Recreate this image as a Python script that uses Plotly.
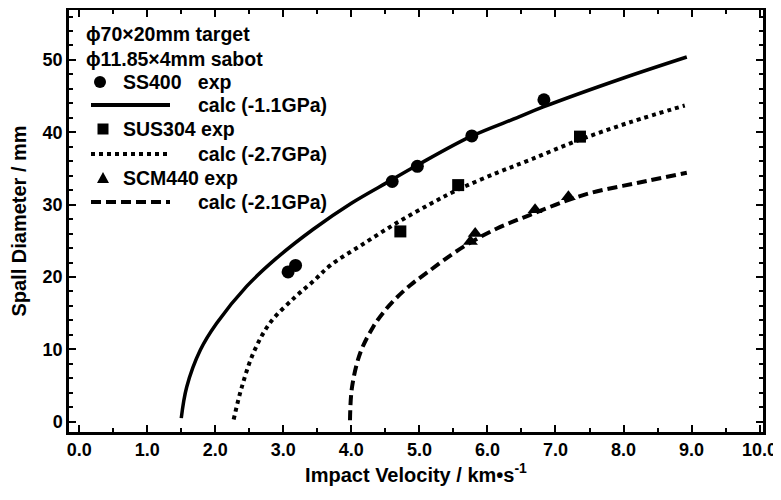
import plotly.graph_objects as go

# ---------------- data ----------------
ss400_v = [3.07, 3.18, 4.60, 4.97, 5.77, 6.83]
ss400_d = [20.7, 21.6, 33.2, 35.3, 39.5, 44.5]

sus304_v = [4.72, 5.57, 7.36]
sus304_d = [26.3, 32.7, 39.4]

scm440_v = [5.75, 5.82, 6.70, 7.19]
scm440_d = [24.9, 26.0, 29.3, 31.1]

calc_ss400_v = [1.50, 1.58, 1.78, 2.02, 2.46, 2.90, 3.44, 4.00, 4.57, 4.96, 5.75, 6.43, 6.82, 8.00, 8.93]
calc_ss400_d = [0.5, 4.8, 9.9, 13.6, 18.7, 22.6, 26.6, 30.2, 33.3, 35.4, 39.4, 42.0, 43.5, 47.5, 50.4]

calc_sus304_v = [2.27, 2.39, 2.56, 2.80, 3.17, 3.44, 3.69, 4.18, 4.67, 5.16, 5.55, 6.14, 6.63, 7.31, 8.10, 8.90]
calc_sus304_d = [0.3, 4.8, 9.5, 13.6, 17.2, 19.4, 21.6, 24.6, 27.5, 30.1, 32.0, 34.4, 36.2, 38.8, 41.4, 43.7]

calc_scm440_v = [3.98, 4.01, 4.13, 4.32, 4.47, 4.65, 4.87, 5.11, 5.65, 6.14, 6.63, 7.12, 7.51, 8.20, 8.93]
calc_scm440_d = [0.2, 4.8, 9.5, 13.1, 15.1, 17.0, 18.9, 20.6, 24.2, 26.7, 28.6, 30.4, 31.6, 33.0, 34.4]

header_lines = ["ϕ70×20mm target", "ϕ11.85×4mm sabot"]
exp_labels = ["SS400   exp", "SUS304 exp", "SCM440 exp"]
calc_labels = ["calc (-1.1GPa)", "calc (-2.7GPa)", "calc (-2.1GPa)"]

# ---------------- figure ----------------
OFF = 8                      # default page body margin
W, H = 781 - OFF, 500 - OFF
PL, PR, PT, PB = 69, 763, 10, 432   # plot area in window pixels
L, R, T, B = PL - OFF, W - (PR - OFF), PT - OFF, H - (PB - OFF)
FONT = "Liberation Sans, Arial, sans-serif"
DOT = "4px,4px"
DASH = "10px,5px"

fig = go.Figure()

fig.add_trace(go.Scatter(x=calc_ss400_v, y=calc_ss400_d, mode="lines",
                         line=dict(color="black", width=3.5, shape="spline"), showlegend=False))
fig.add_trace(go.Scatter(x=calc_sus304_v, y=calc_sus304_d, mode="lines",
                         line=dict(color="black", width=4, dash=DOT, shape="spline"), showlegend=False))
fig.add_trace(go.Scatter(x=calc_scm440_v, y=calc_scm440_d, mode="lines",
                         line=dict(color="black", width=4, dash=DASH, shape="spline"), showlegend=False))

fig.add_trace(go.Scatter(x=ss400_v, y=ss400_d, mode="markers",
                         marker=dict(symbol="circle", size=13, color="black"), showlegend=False))
fig.add_trace(go.Scatter(x=sus304_v, y=sus304_d, mode="markers",
                         marker=dict(symbol="square", size=12, color="black"), showlegend=False))
fig.add_trace(go.Scatter(x=scm440_v, y=scm440_d, mode="markers",
                         marker=dict(symbol="triangle-up", size=13, color="black"), showlegend=False))


def px(xp):
    return (xp - PL) / (PR - PL)


def py(yp):
    return (PB - yp) / (PB - PT)


annotations = []
shapes = []

text_font = dict(family=FONT, size=19.5, color="black", weight="bold")

# header lines
for i, txt in enumerate(header_lines):
    annotations.append(dict(text=txt, x=px(84), y=py(34 + 25 * i), xref="paper", yref="paper",
                            xanchor="left", yanchor="middle", showarrow=False, font=text_font))

row_y = [82, 129, 178]
calc_y = [105, 154, 202]
dashes = ["solid", DOT, DASH]
for i in range(3):
    annotations.append(dict(text=exp_labels[i], x=px(121), y=py(row_y[i]), xref="paper", yref="paper",
                            xanchor="left", yanchor="middle", showarrow=False, font=text_font))
    annotations.append(dict(text=calc_labels[i], x=px(196), y=py(calc_y[i]), xref="paper", yref="paper",
                            xanchor="left", yanchor="middle", showarrow=False, font=text_font))
    shapes.append(dict(type="line", xref="paper", yref="paper", x0=px(91), x1=px(170),
                       y0=py(calc_y[i]), y1=py(calc_y[i]),
                       line=dict(color="black", width=4, dash=dashes[i])))

# legend marker glyphs
shapes.append(dict(type="circle", xref="paper", yref="paper", xsizemode="pixel", ysizemode="pixel",
                   xanchor=px(100), yanchor=py(row_y[0]), x0=-6, x1=6, y0=-6, y1=6,
                   fillcolor="black", line=dict(width=0)))
shapes.append(dict(type="rect", xref="paper", yref="paper", xsizemode="pixel", ysizemode="pixel",
                   xanchor=px(103), yanchor=py(row_y[1]), x0=-5.5, x1=5.5, y0=-5.5, y1=5.5,
                   fillcolor="black", line=dict(width=0)))
shapes.append(dict(type="path", xref="paper", yref="paper", xsizemode="pixel", ysizemode="pixel",
                   xanchor=px(103), yanchor=py(row_y[2]), path="M -6 -5 L 6 -5 L 0 6 Z",
                   fillcolor="black", line=dict(width=0)))

axis_common = dict(
    showline=True, linecolor="black", linewidth=2.5, mirror="ticks",
    ticks="inside", ticklen=7, tickwidth=2, tickcolor="black",
    showgrid=False, zeroline=False,
    tickfont=dict(family=FONT, size=18, color="black", weight="bold"),
    automargin=False,
)

fig.update_layout(
    width=W, height=H,
    margin=dict(l=L, r=R, t=T, b=B),
    paper_bgcolor="white", plot_bgcolor="white",
    showlegend=False,
    annotations=annotations,
    shapes=shapes,
    xaxis=dict(range=[-0.15, 10.05], tick0=0, dtick=1, tickformat=".1f",
               minor=dict(dtick=0.5, ticks="inside", ticklen=4, tickwidth=1.5, tickcolor="black"),
               title=dict(text="Impact Velocity / km•s<sup>-1</sup>", standoff=2,
                          font=dict(family=FONT, size=20, color="black", weight="bold")),
               **axis_common),
    yaxis=dict(range=[-1.42, 56.9], tick0=0, dtick=10,
               minor=dict(dtick=2, ticks="inside", ticklen=4, tickwidth=1.5, tickcolor="black"),
               title=dict(text="Spall Diameter / mm", standoff=12,
                          font=dict(family=FONT, size=20, color="black", weight="bold")),
               **axis_common),
)

fig.write_html("out.html")
